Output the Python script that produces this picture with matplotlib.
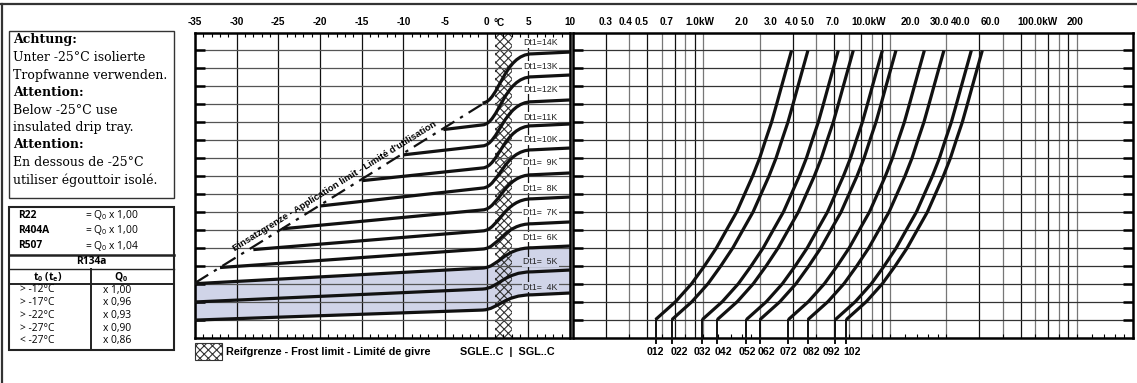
import math
import numpy as np
import matplotlib
matplotlib.use("Agg")
import matplotlib.pyplot as plt
from matplotlib.path import Path
from matplotlib.patches import PathPatch, Rectangle
from matplotlib.lines import Line2D
from matplotlib.ticker import MultipleLocator, LogLocator, NullLocator, NullFormatter

plt.rcParams['font.family'] = ['Liberation Sans', 'DejaVu Sans']
plt.rcParams['hatch.linewidth'] = 0.8

W, H = 1137, 383
INK = '#111111'
SHADE = '#d0d4e8'

# ---- left panel: evaporating temperature / Dt1 rows ----
temp_ticks = [-35, -30, -25, -20, -15, -10, -5, 0, 5, 10]
dt1 = [4, 5, 6, 7, 8, 9, 10, 11, 12, 13, 14]
t_start = [-35, -35, -35, -32, -28, -24.5, -20, -15, -10, -5.2, -0.5]
lvl_start = [0.97, 1.98, 3.00, 3.90, 4.90, 6.06, 7.33, 8.74, 10.18, 11.59, 13.07]
lvl_zero = [1.53, 2.70, 3.87, 4.93, 5.94, 7.11, 8.33, 9.45, 10.68, 11.85, 13.07]
lvl_end = [2.48, 3.76, 5.10, 6.44, 7.83, 9.17, 10.56, 11.90, 13.24, 14.63, 15.91]
label_lvl = [2.81, 4.21, 5.60, 6.99, 8.33, 9.78, 11.01, 12.29, 13.85, 15.13, 16.42]
limit_t = [-35, -0.3]
limit_lvl = [3.04, 13.07]
frost_t = [1.0, 3.0]
band_dt = [4, 6]

# ---- right panel: capacity nomogram ----
models = ['012', '022', '032', '042', '052', '062', '072', '082', '092', '102']
model_base = [0.277, 0.339, 0.493, 0.593, 0.849, 1.004, 1.425, 1.814, 2.544, 2.913]
rows = list(range(1, 17))
row_factor = [1.00, 1.28, 1.56, 1.83, 2.12, 2.40, 2.72, 3.00, 3.31, 3.61,
              3.88, 4.18, 4.45, 4.73, 5.03, 5.35]
grid_rel = [0.15, 0.2, 0.25, 0.3, 0.35, 0.4, 0.45, 0.5,
            1, 1.5, 2, 2.5, 3, 3.5, 4, 4.5, 5,
            10, 15, 20, 25, 30, 35, 40, 45, 50]
kw_ticks = [0.3, 0.4, 0.5, 0.7, 1, 2, 3, 4, 5, 7, 10, 20, 30, 40, 60, 100, 200]
kw_labels = ['0.3', '0.4', '0.5', '0.7', '1.0kW', '2.0', '3.0', '4.0', '5.0', '7.0',
             '10.0kW', '20.0', '30.0', '40.0', '60.0', '100.0kW', '200']

# ---- refrigerant factors ----
refrig = ['R22', 'R404A', 'R507']
refrig_q = ['1,00', '1,00', '1,04']
r134_t = ['> -12°C', '> -17°C', '> -22°C', '> -27°C', '< -27°C']
r134_q = ['x 1,00', 'x 0,96', 'x 0,93', 'x 0,90', 'x 0,86']

note_lines = [('Achtung:', True), ('Unter -25°C isolierte', False), ('Tropfwanne verwenden.', False),
              ('Attention:', True), ('Below -25°C use', False), ('insulated drip tray.', False),
              ('Attention:', True), ('En dessous de -25°C', False), ('utiliser égouttoir isolé.', False)]


def fx(x):
    return x / W


def fy(y):
    return 1 - y / H


def curve_verts(i):
    return [(t_start[i], lvl_start[i]), (-0.5, lvl_zero[i]),
            (1.5, lvl_zero[i] + 0.05), (2.0, lvl_end[i] - 0.1), (5.5, lvl_end[i] - 0.1),
            (10, lvl_end[i])]


CODES = [Path.MOVETO, Path.LINETO, Path.CURVE4, Path.CURVE4, Path.CURVE4, Path.LINETO]

fig = plt.figure(figsize=(W / 100, H / 100), dpi=100)
fig.patch.set_facecolor('white')

axL = fig.add_axes([fx(195), fy(337.5), (570 - 195) / W, 305 / H])
axR = fig.add_axes([fx(573), fy(337.5), (1133 - 573) / W, 305 / H])

# ---------------- left panel ----------------
axL.set_xlim(-35, 10)
axL.set_ylim(0, 17)
axL.xaxis.tick_top()
axL.set_xticks(temp_ticks, [str(t) for t in temp_ticks], fontweight='bold', fontsize=7.2)
axL.xaxis.set_minor_locator(MultipleLocator(1))
axL.tick_params(axis='x', which='major', length=0, pad=4)
axL.tick_params(axis='x', which='minor', direction='in', length=3, width=0.8, top=True, bottom=True)
axL.set_yticks(rows, [])
axL.tick_params(axis='y', which='major', direction='in', length=7, width=1.8, left=True, right=False)
axL.grid(axis='x', which='major', color=INK, lw=0.9)
axL.grid(axis='y', color='#555555', lw=0.9)
for s in axL.spines.values():
    s.set_linewidth(1.8)

# frost band
axL.add_patch(Rectangle((frost_t[0], 0), frost_t[1] - frost_t[0], 17, fill=False,
                        hatch='xxxx', edgecolor='#333333', lw=0, zorder=1.2))

# shaded band between Dt1=4K and 6K
i_lo, i_hi = dt1.index(band_dt[0]), dt1.index(band_dt[1])
upper = curve_verts(i_hi)
lower = curve_verts(i_lo)[::-1]
band_path = Path(upper + lower + [upper[0]],
                 CODES + [Path.LINETO, Path.LINETO, Path.CURVE4, Path.CURVE4, Path.CURVE4,
                          Path.LINETO, Path.CLOSEPOLY])
axL.add_patch(PathPatch(band_path, facecolor=SHADE, edgecolor='none', zorder=0.5))

for i, d in enumerate(dt1):
    axL.add_patch(PathPatch(Path(curve_verts(i), CODES), facecolor='none', edgecolor=INK,
                            lw=2.3, capstyle='butt', joinstyle='round', zorder=3))
    bg = SHADE if band_dt[0] <= d < band_dt[1] else 'white'
    lab = 'Dt1=%dK' % d if d >= 10 else 'Dt1=  %dK' % d
    axL.text(4.4, label_lvl[i], lab, fontsize=6.3, color='#222222', ha='left', va='center',
             zorder=4, bbox=dict(facecolor=bg, edgecolor='none', pad=0.6))

# application limit
axL.plot(limit_t, limit_lvl, color=INK, lw=1.6, ls=(0, (7, 3, 1.5, 3)), zorder=3)
p1 = axL.transData.transform((limit_t[0], limit_lvl[0]))
p2 = axL.transData.transform((limit_t[1], limit_lvl[1]))
ang = math.degrees(math.atan2(p2[1] - p1[1], p2[0] - p1[0]))
tm = -17.7
lm = limit_lvl[0] + (tm - limit_t[0]) * (limit_lvl[1] - limit_lvl[0]) / (limit_t[1] - limit_t[0])
off = 2.5
axL.annotate("Einsatzgrenze - Application limit - Limité d'utilisation", xy=(tm, lm),
             xytext=(-off * math.sin(math.radians(ang)), off * math.cos(math.radians(ang))),
             textcoords='offset points', rotation=ang, rotation_mode='anchor',
             ha='center', va='bottom', fontsize=6.8, fontweight='bold', zorder=4)
fig.text(fx(493), fy(23), '°C', fontsize=7.2, fontweight='bold', ha='left', va='center')

# ---------------- right panel ----------------
axR.set_xscale('log')
axR.set_xlim(0.1, 100)
axR.set_ylim(0, 17)
axR.xaxis.set_major_locator(NullLocator())
axR.xaxis.set_minor_locator(LogLocator(subs=np.arange(1.0, 10.0), numticks=30))
axR.xaxis.set_minor_formatter(NullFormatter())
axR.tick_params(axis='x', which='minor', direction='in', length=3, width=0.8, bottom=True, top=True)
axR.set_yticks(rows, [])
axR.tick_params(axis='y', which='major', direction='in', length=7, width=1.8, left=True, right=True)
axR.grid(axis='y', color='#333333', lw=0.9)
for s in axR.spines.values():
    s.set_linewidth(1.8)
for g in grid_rel:
    half = abs(g / 10 ** math.floor(math.log10(g)) % 1 - 0.5) < 1e-6
    axR.axvline(g, color=INK if half else '#777777', lw=0.9, zorder=1.5)

label_dx = [0, 7, 0, 6.5, 1, 6.5, 0, 3, -4, 6]
for m, b, dx in zip(models, model_base, label_dx):
    axR.plot([b * f for f in row_factor], rows, color=INK, lw=2.3, solid_capstyle='butt', zorder=3)
    axR.plot([b, b], [rows[0], -0.3], color=INK, lw=1.4, clip_on=False, zorder=3)
    axR.annotate(m, xy=(b, -0.83), xytext=(dx * 0.72, 0), textcoords='offset points',
                 ha='center', va='center', fontsize=7.6, fontweight='bold', annotation_clip=False)

axK = axR.twiny()
axK.set_xscale('log')
axK.set_xlim(0.2114, 500)
axK.set_xticks(kw_ticks, kw_labels, fontweight='bold', fontsize=7.2)
axK.xaxis.set_minor_locator(NullLocator())
axK.tick_params(axis='x', which='major', length=0, pad=4)
for t in axK.get_xticklabels():
    t.set_horizontalalignment('left')
axK.set_frame_on(False)

# ---------------- notes / legend ----------------
fig.add_artist(Rectangle((fx(9), fy(198)), (174 - 9) / W, (198 - 31) / H,
                         transform=fig.transFigure, fill=False, lw=1.0, ec='#333333'))
for k, (txt, bold) in enumerate(note_lines):
    fig.text(fx(13), fy(40 + 17.5 * k), txt, family='DejaVu Serif', fontsize=9.0,
             fontweight='bold' if bold else 'normal', ha='left', va='center')

fig.add_artist(Rectangle((fx(9), fy(350)), (174 - 9) / W, (350 - 207) / H,
                         transform=fig.transFigure, fill=False, lw=1.5, ec='#222222'))
for y, lw in [(255, 1.8), (269, 1.0), (284, 1.4)]:
    fig.add_artist(Line2D([fx(9), fx(174)], [fy(y), fy(y)], lw=lw, color='#222222'))
fig.add_artist(Line2D([fx(91), fx(91)], [fy(269), fy(350)], lw=1.4, color='#222222'))
tf = dict(family=['Open Sans', 'DejaVu Sans'], fontsize=7.4, va='center')
for k, (r, q) in enumerate(zip(refrig, refrig_q)):
    y = 215 + 15.5 * k
    fig.text(fx(18), fy(y), r, fontweight='bold', ha='left', **tf)
    fig.text(fx(85), fy(y), r'= Q$_\mathregular{0}$ x ' + q, ha='left', **tf)
fig.text(fx(91), fy(262), 'R134a', fontweight='bold', ha='center', **tf)
fig.text(fx(48), fy(277), r't$_\mathregular{0}$ (t$_\mathregular{e}$)', fontweight='bold', ha='center', **tf)
fig.text(fx(121), fy(277), r'Q$_\mathregular{0}$', fontweight='bold', ha='center', **tf)
for k, (t, q) in enumerate(zip(r134_t, r134_q)):
    y = 290 + 12.7 * k
    fig.text(fx(20), fy(y), t, ha='left', **tf)
    fig.text(fx(103), fy(y), q, ha='left', **tf)

fig.add_artist(Rectangle((fx(195), fy(360)), 27 / W, 17 / H, transform=fig.transFigure,
                         fill=False, hatch='xxxx', ec='#333333', lw=0.8))
fig.text(fx(226), fy(352), 'Reifgrenze - Frost limit - Limité de givre', fontsize=7.8,
         fontweight='bold', ha='left', va='center')
fig.text(fx(460), fy(352), 'SGLE..C  |  SGL..C', fontsize=7.8, fontweight='bold',
         ha='left', va='center')

# outer frame
fig.add_artist(Line2D([0, 1], [fy(4), fy(4)], lw=1.6, color='#333333'))
fig.add_artist(Line2D([fx(2), fx(2)], [0, fy(4)], lw=1.6, color='#333333'))

fig.savefig('out.png', dpi=100)
